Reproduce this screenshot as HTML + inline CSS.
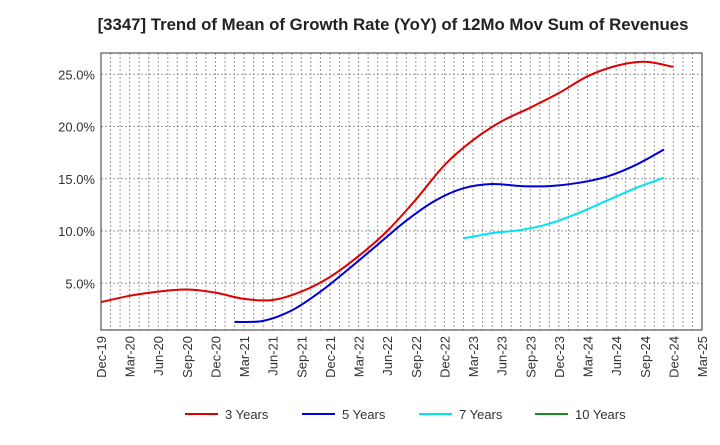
<!DOCTYPE html>
<html><head><meta charset="utf-8"><style>
body{margin:0;background:#fff;font-family:"Liberation Sans",sans-serif}
</style></head><body>
<svg id="c" width="720" height="440" xmlns="http://www.w3.org/2000/svg"></svg>
<script>
const xLabels=["Dec-19","Mar-20","Jun-20","Sep-20","Dec-20","Mar-21","Jun-21","Sep-21","Dec-21","Mar-22","Jun-22","Sep-22","Dec-22","Mar-23","Jun-23","Sep-23","Dec-23","Mar-24","Jun-24","Sep-24","Dec-24","Mar-25"];
const yTicks=[5,10,15,20,25];
const s3=[3.2,3.8,4.2,4.4,4.1,3.5,3.4,4.2,5.6,7.6,10.0,13.0,16.3,18.7,20.5,21.8,23.2,24.8,25.8,26.2,25.7];
const s3start=0;
const s5=[1.3,1.4,2.4,4.2,6.4,8.7,11.0,12.9,14.1,14.5,14.3,14.3,14.6,15.2,16.3,17.8];
const s5start=4.67;
const s7=[9.3,9.8,10.1,10.7,11.7,12.9,14.1,15.1];
const s7start=12.67;
const s10=[];
const seriesNames=["3 Years","5 Years","7 Years","10 Years"];
const colors=["#e00000","#0000dd","#00e5ee","#1a8a1a"];
const L=101,R=702,T=53,B=330;
const NS="http://www.w3.org/2000/svg";
const svg=document.getElementById('c');
const X=i=>L+i*(R-L)/21;
const Y=v=>335.5-v*10.45;
function el(t,a,p){const e=document.createElementNS(NS,t);for(const k in a)e.setAttribute(k,a[k]);(p||svg).appendChild(e);return e;}
let t=el('text',{x:393,y:30,'text-anchor':'middle','font-size':16.8,'font-weight':'bold',fill:'#222'});


t.textContent="[3347]  Trend of Mean of Growth Rate (YoY) of 12Mo Mov Sum of Revenues";
for(let m=1;m<63;m++){const x=L+m*(R-L)/63;const g=el('line',{x1:x,x2:x,y1:T,y2:B,stroke:'#999','stroke-dasharray':'2,2','stroke-width':1});

}
yTicks.forEach(v=>{const g=el('line',{x1:L,x2:R,y1:Y(v),y2:Y(v),stroke:'#999','stroke-dasharray':'2,2'});


const tx=el('text',{x:L-6,y:Y(v)+5,'text-anchor':'end','font-size':13,fill:'#333'});


tx.textContent=v.toFixed(1)+'%';});
const fr=el('rect',{x:L,y:T,width:R-L,height:B-T,fill:'none',stroke:'#333'});


xLabels.forEach((s,i)=>{const tx=el('text',{transform:`translate(${X(i)+5},${B+6}) rotate(-90)`,'text-anchor':'end','font-size':13,fill:'#333'});


tx.textContent=s;});
function path(arr,st){const p=arr.map((v,i)=>[X(st+i),Y(v)]);if(p.length<2)return '';
let d=`M${p[0][0]},${p[0][1]}`;for(let i=0;i<p.length-1;i++){const p0=p[i-1]||p[i],p1=p[i],p2=p[i+1],p3=p[i+2]||p2;
d+=` C${p1[0]+(p2[0]-p0[0])/6},${p1[1]+(p2[1]-p0[1])/6} ${p2[0]-(p3[0]-p1[0])/6},${p2[1]-(p3[1]-p1[1])/6} ${p2[0]},${p2[1]}`;}return d;}
[[s3,s3start],[s5,s5start],[s7,s7start],[s10,0]].forEach((s,k)=>{const d=path(s[0],s[1]);if(!d)return;
const p=el('path',{d,fill:'none',stroke:colors[k],'stroke-width':2});

});
const lx=[185,302,419,535];
seriesNames.forEach((n,k)=>{const g=el('g',{});


el('line',{x1:lx[k],x2:lx[k]+33,y1:414,y2:414,stroke:colors[k],'stroke-width':2},g);
const tx=el('text',{x:lx[k]+40,y:419,'font-size':13,fill:'#333'},g);tx.textContent=n;});
</script>
</body></html>
